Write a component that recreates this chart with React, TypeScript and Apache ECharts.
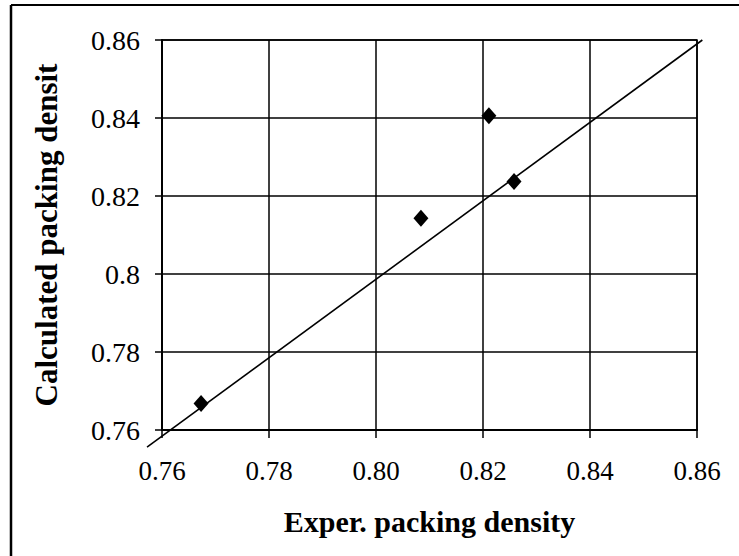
import React, { useEffect, useRef } from "react";
import * as echarts from "echarts";

const expDensity = [0.7673, 0.8084, 0.8211, 0.8258];
const calcDensity = [0.7668, 0.8143, 0.8406, 0.8237];
const parityLineX = [0.7572, 0.861];
const parityLineY = [0.7556, 0.86];
const xTitle = "Exper. packing density";
const yTitle = "Calculated packing densit";

export default function App() {
  const ref = useRef<HTMLDivElement>(null);
  useEffect(() => {
    if (!ref.current) return;
    const chart = echarts.init(ref.current, null, { renderer: "svg" });
    const font = "Liberation Serif";
    const frame = [
      { type: "line", shape: { x1: 11, y1: 5, x2: 11, y2: 556 }, style: { stroke: "#000", lineWidth: 2.5 } },
      { type: "line", shape: { x1: 11, y1: 5, x2: 739, y2: 5 }, style: { stroke: "#000", lineWidth: 2 } },
    ];
    chart.setOption({
      animation: false,
      backgroundColor: "#fff",
      grid: {
        left: 162,
        right: 42,
        top: 40,
        bottom: 126,
        show: true,
        borderColor: "#000",
        borderWidth: 1.5,
      },
      xAxis: {
        type: "value",
        min: 0.76,
        max: 0.86,
        interval: 0.02,
        name: xTitle,
        nameLocation: "middle",
        nameGap: 76,
        nameTextStyle: { fontFamily: font, fontWeight: "bold", fontSize: 30, color: "#000" },
        axisLine: { show: true, onZero: false, lineStyle: { color: "#000", width: 2 } },
        axisTick: { show: true, length: 8, lineStyle: { color: "#000", width: 1.5 } },
        axisLabel: {
          margin: 27,
          fontFamily: font,
          fontSize: 27,
          color: "#000",
          formatter: (v: number) => v.toFixed(2),
        },
        splitLine: { show: true, lineStyle: { color: "#000", width: 1.5 } },
      },
      yAxis: {
        type: "value",
        min: 0.76,
        max: 0.86,
        interval: 0.02,
        name: yTitle,
        nameLocation: "middle",
        nameGap: 100,
        nameRotate: 90,
        nameTextStyle: { fontFamily: font, fontWeight: "bold", fontSize: 31, color: "#000" },
        axisLine: { show: true, onZero: false, lineStyle: { color: "#000", width: 2 } },
        axisTick: { show: true, length: 7, lineStyle: { color: "#000", width: 1.5 } },
        axisLabel: {
          margin: 22,
          fontFamily: font,
          fontSize: 28,
          color: "#000",
          formatter: (v: number) => String(parseFloat(v.toFixed(2))),
        },
        splitLine: { show: true, lineStyle: { color: "#000", width: 1.5 } },
      },
      series: [
        {
          type: "scatter",
          data: expDensity.map((x, i) => [x, calcDensity[i]]),
          symbol: "diamond",
          symbolSize: [15, 17],
          itemStyle: { color: "#000", opacity: 1 },
          z: 4,
        },
      ],
      graphic: frame,
    });
    const p1 = chart.convertToPixel({ gridIndex: 0 }, [parityLineX[0], parityLineY[0]]) as number[];
    const p2 = chart.convertToPixel({ gridIndex: 0 }, [parityLineX[1], parityLineY[1]]) as number[];
    chart.setOption({
      graphic: [
        ...frame,
        {
          type: "line",
          z: 3,
          shape: { x1: p1[0], y1: p1[1], x2: p2[0], y2: p2[1] },
          style: { stroke: "#000", lineWidth: 1.6 },
        },
      ],
    });
    return () => chart.dispose();
  }, []);
  return <div ref={ref} style={{ width: 739, height: 556, position: "absolute", left: 0, top: 0 }} />;
}
